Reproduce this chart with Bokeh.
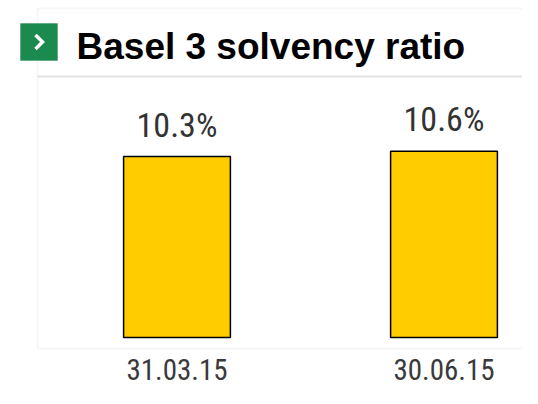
from bokeh.plotting import figure
from bokeh.models import BoxAnnotation, Label, ColumnDataSource
from bokeh.core.properties import value
from bokeh.embed import file_html
from bokeh.resources import INLINE

# ---- data ----
categories = ["31.03.15", "30.06.15"]
ratios = [10.3, 10.6]
value_labels = ["10.3%", "10.6%"]
title_text = "Basel 3 solvency ratio"

# ---- layout constants ----
W, H = 522, 388
PX_X = 267.0      # pixels per category step
PX_Y = 17.57      # pixels per percentage point
X0_CANVAS = 176.5 # canvas x of first category centre
Y0_CANVAS = 337.0 # canvas y of value 0
TXT_FIX = 12      # empirical baseline correction for svg text

x_start = -X0_CANVAS / PX_X
x_end = (W - X0_CANVAS) / PX_X
y_end = Y0_CANVAS / PX_Y
y_start = -(H - Y0_CANVAS) / PX_Y

def X(sx):  # canvas px -> data x (decoration helper)
    return x_start + sx / PX_X

def Y(sy):  # canvas px -> data y (decoration helper)
    return y_end - sy / PX_Y

p = figure(width=W, height=H, output_backend="svg", toolbar_location=None,
           x_range=(x_start, x_end), y_range=(y_start, y_end),
           min_border=0, min_border_left=0, min_border_right=0,
           min_border_top=0, min_border_bottom=0)
p.axis.visible = False
p.grid.visible = False
p.outline_line_color = None
p.background_fill_color = "white"
p.border_fill_color = "white"

GRAY = "#e2e2e2"
# frame box
p.add_layout(BoxAnnotation(left=X(37), right=X(560), top=Y(8), bottom=Y(348),
                           fill_color=None, fill_alpha=0, line_color=GRAY, line_width=2,
                           level="underlay"))
# separator under title
p.segment(x0=[X(37)], y0=[Y(76)], x1=[X(560)], y1=[Y(76)], line_color=GRAY, line_width=2)

# icon
p.add_layout(BoxAnnotation(left=X(20), right=X(57), top=Y(23), bottom=Y(60),
                           fill_color="#1a8a4f", fill_alpha=1, line_color="#147543", line_width=1,
                           level="underlay"))
p.line(x=[X(35), X(42), X(35)], y=[Y(34.5), Y(41.5), Y(48.5)], line_color="white",
       line_width=3.5, line_join="miter")

# title
p.add_layout(Label(x=X(76), y=Y(58 - TXT_FIX), text=title_text, text_font="Liberation Sans",
                   text_font_style="bold", text_font_size="37px", text_color="black",
                   text_baseline="alphabetic"))

# bars
idx = list(range(len(categories)))
src = ColumnDataSource(dict(x=idx, top=ratios, lab=value_labels, cat=categories))
p.vbar(x="x", top="top", bottom=0, width=0.40, source=src, fill_color="#ffcc00",
       line_color="black", line_width=1.5)

COND = value("Liberation Sans Narrow, Roboto Condensed, Arial Narrow, sans-serif")
p.text(x="x", y="top", text="lab", source=src, text_align="center",
       text_baseline="alphabetic", y_offset=-20 - TXT_FIX, text_font=COND,
       text_font_size="34px", text_color="#333333")
p.text(x="x", y=0, text="cat", source=src, text_align="center",
       text_baseline="alphabetic", y_offset=44 - TXT_FIX, text_font=COND,
       text_font_size="29px", text_color="#3a3a3a")

open("out.html", "w").write(file_html(p, INLINE))
